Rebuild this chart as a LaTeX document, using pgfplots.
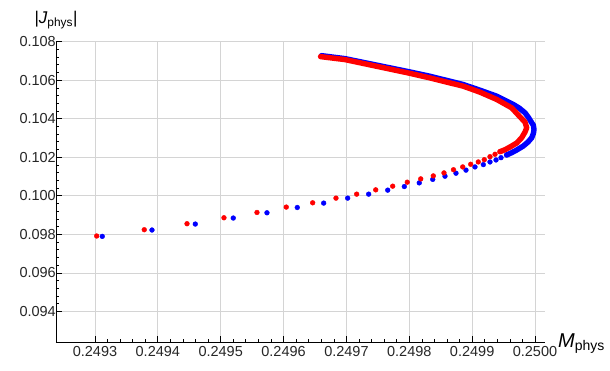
\documentclass[border=0pt]{standalone}
\usepackage{pgfplots}
\pgfplotsset{compat=1.18}
\usepackage{pgfplotstable}
\usepackage{fontspec}
\setmainfont{Liberation Sans}

\pgfplotstableread{
x y
0.2493116 0.097897
0.2493907 0.098227
0.2494596 0.098537
0.2495200 0.098848
0.2495736 0.099121
0.2496218 0.099395
0.2496638 0.099623
0.2497020 0.099881
0.2497354 0.100088
0.2497657 0.100295
0.2497921 0.100481
0.2498159 0.100672
0.2498373 0.100853
0.2498568 0.101018
0.2498743 0.101173
0.2498902 0.101333
0.2499045 0.101499
0.2499178 0.101618
0.2499284 0.101757
0.2499380 0.101860
0.2499459 0.101979
0.2499550 0.102119
}\bluesparse

\pgfplotstableread{
x y
0.2499550 0.102119
0.2499629 0.102238
0.2499709 0.102377
0.2499814 0.102584
0.2499889 0.102791
0.2499948 0.103013
0.2499976 0.103256
0.2499984 0.103447
0.2499973 0.103669
0.2499948 0.103788
0.2499897 0.104057
0.2499841 0.104305
0.2499750 0.104548
0.2499655 0.104739
0.2499391 0.105168
0.2499125 0.105478
0.2498859 0.105773
0.2498330 0.106202
0.2497984 0.106444
0.2496977 0.107116
0.2496603 0.107271
}\bluedense

\pgfplotstableread{
x y
0.2493027 0.097917
0.2493784 0.098243
0.2494464 0.098553
0.2495052 0.098863
0.2495577 0.099137
0.2496043 0.099416
0.2496463 0.099638
0.2496834 0.099881
0.2497163 0.100088
0.2497466 0.100310
0.2497736 0.100501
0.2497968 0.100708
0.2498182 0.100879
0.2498382 0.101034
0.2498552 0.101189
0.2498703 0.101354
0.2498850 0.101499
0.2498977 0.101638
0.2499098 0.101757
0.2499193 0.101876
0.2499284 0.102031
0.2499364 0.102155
0.2499443 0.102289
}\redsparse

\pgfplotstableread{
x y
0.2499443 0.102289
0.2499523 0.102393
0.2499602 0.102532
0.2499709 0.102739
0.2499788 0.103013
0.2499841 0.103308
0.2499868 0.103530
0.2499841 0.103824
0.2499750 0.104134
0.2499629 0.104563
0.2499391 0.104998
0.2499125 0.105375
0.2498859 0.105685
0.2498330 0.106114
0.2497984 0.106372
0.2496977 0.107065
0.2496588 0.107220
}\reddense

\begin{document}
\begin{tikzpicture}
\path[use as bounding box] (-56pt,-28.3pt) rectangle (554pt,342pt);
\begin{axis}[
  scale only axis,
  width=489pt, height=301pt,
  xmin=0.249238, xmax=0.2500159,
  ymin=0.092419, ymax=0.10803,
  axis x line*=bottom, axis y line*=left,
  axis line style={-, black, line width=0.8pt},
  xtick={0.2493,0.2494,0.2495,0.2496,0.2497,0.2498,0.2499,0.25},
  xticklabels={0.2493,0.2494,0.2495,0.2496,0.2497,0.2498,0.2499,0.2500},
  ytick={0.094,0.096,0.098,0.100,0.102,0.104,0.106,0.108},
  yticklabels={0.094,0.096,0.098,0.100,0.102,0.104,0.106,0.108},
  minor x tick num=4, minor y tick num=4,
  tick align=inside,
  major tick length=6pt, minor tick length=3pt,
  tick style={black, line width=0.7pt},
  grid=major,
  major grid style={black!17, line width=0.9pt},
  xticklabel style={font=\fontsize{14.5}{17}\selectfont, text=black!85, inner sep=0pt, anchor=north, yshift=-4pt},
  yticklabel style={font=\fontsize{14.5}{17}\selectfont, text=black!85, inner sep=0pt, anchor=east, xshift=0pt},
  xlabel={{\itshape M}\textsubscript{phys}},
  xlabel style={font=\fontsize{20}{24}\selectfont, at={(rel axis cs:1,0)}, anchor=base west, inner sep=0pt, xshift=13pt, yshift=-5pt},
  ylabel={|{\itshape J}\textsubscript{phys}|},
  ylabel style={font=\fontsize{17}{20}\selectfont, at={(rel axis cs:0,1)}, anchor=base, rotate=-90, inner sep=0pt, yshift=17pt},
  clip=false,
]
\addplot[blue, only marks, mark=*, mark size=2.4pt, mark options={draw=none, fill=blue}] table {\bluesparse};
\addplot[blue, no markers, line width=5.4pt, line cap=round, line join=round] table {\bluedense};
\addplot[red, only marks, mark=*, mark size=2.4pt, mark options={draw=none, fill=red}] table {\redsparse};
\addplot[red, no markers, line width=5.4pt, line cap=round, line join=round] table {\reddense};
\end{axis}
\end{tikzpicture}
\end{document}
